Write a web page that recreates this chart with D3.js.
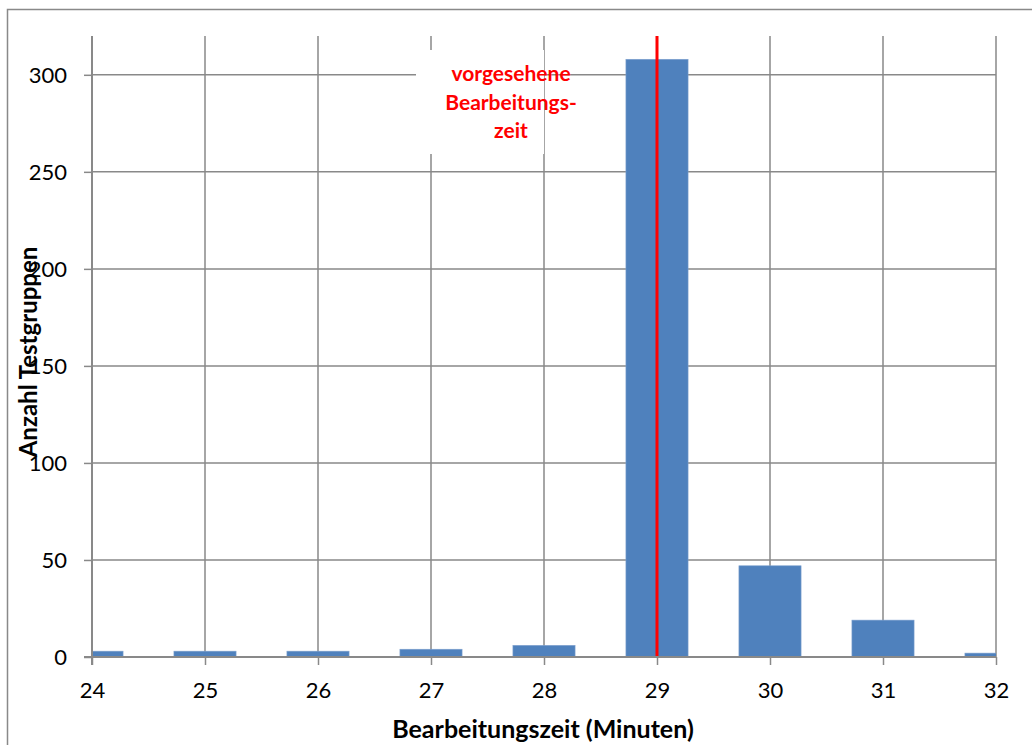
<!DOCTYPE html>
<html>
<head>
<meta charset="utf-8">
<script src="https://cdn.jsdelivr.net/npm/d3@7"></script>
<style>
  html, body { margin: 0; padding: 0; background: #fff; }
  svg { display: block; }
  text { font-family: Lato, "Open Sans", "Liberation Sans", sans-serif; }
</style>
</head>
<body>
<svg id="chart" width="1032" height="745"></svg>
<script>
// Bearbeitungszeit in Minuten and number of test groups per minute
const minutes = [24, 25, 26, 27, 28, 29, 30, 31, 32];
const counts  = [3, 3, 3, 4, 6, 308, 47, 19, 2];
const xTicks  = [24, 25, 26, 27, 28, 29, 30, 31, 32];
const yTicks  = [0, 50, 100, 150, 200, 250, 300];
const plannedTime = 29;
const plannedLabel = ["vorgesehene", "Bearbeitungs-", "zeit"];

const svg = d3.select("#chart");
const W = 1032, H = 745;
const m = { left: 92, right: 1032 - 996, top: 36, bottom: H - 657 };

const x = d3.scaleLinear().domain([24, 32]).range([m.left, W - m.right]);
const y = d3.scaleLinear().domain([0, 320]).range([H - m.bottom, m.top]);

const grid = "#898989";
const fontStack = "Lato, 'Open Sans', sans-serif";

// outer frame
svg.append("rect")
  .attr("x", 7.5).attr("y", 9.5).attr("width", 1040).attr("height", 760)
  .attr("fill", "none").attr("stroke", grid).attr("stroke-width", 1.5);

// clip for bars at the plot edges
svg.append("clipPath").attr("id", "plotClip")
  .append("rect")
  .attr("x", m.left).attr("y", m.top)
  .attr("width", x(32) - x(24)).attr("height", y(0) - y(320));

// horizontal grid
svg.append("g").selectAll("line").data(yTicks.filter(d => d > 0)).join("line")
  .attr("x1", x(24)).attr("x2", x(32))
  .attr("y1", d => y(d)).attr("y2", d => y(d))
  .attr("stroke", grid).attr("stroke-width", 1.5);

// vertical grid
svg.append("g").selectAll("line").data(xTicks.filter(d => d > 24)).join("line")
  .attr("x1", d => x(d)).attr("x2", d => x(d))
  .attr("y1", y(320)).attr("y2", y(0))
  .attr("stroke", grid).attr("stroke-width", 1.5);

// bars
const barW = x(24.55) - x(24);
svg.append("g").attr("clip-path", "url(#plotClip)")
  .selectAll("rect").data(minutes).join("rect")
  .attr("x", (d) => x(d) - barW / 2)
  .attr("y", (d, i) => y(counts[i]))
  .attr("width", barW)
  .attr("height", (d, i) => y(0) - y(counts[i]))
  .attr("fill", "#4F81BD")
  .attr("stroke", "#7FA1CE").attr("stroke-width", 0.6);

// annotation background
svg.append("rect")
  .attr("x", 416).attr("y", 50).attr("width", 128).attr("height", 104)
  .attr("fill", "#fff");

// annotation text
svg.append("text")
  .attr("x", 511).attr("y", 81)
  .attr("text-anchor", "middle")
  .attr("fill", "#FF0000").attr("font-weight", "bold").attr("font-size", 21)
  .style("font-family", fontStack)
  .selectAll("tspan").data(plannedLabel).join("tspan")
  .attr("x", 511).attr("dy", (d, i) => i === 0 ? 0 : 28.5)
  .text(d => d);

// planned time line
svg.append("line")
  .attr("x1", x(plannedTime)).attr("x2", x(plannedTime))
  .attr("y1", y(320)).attr("y2", y(0))
  .attr("stroke", "#FF0000").attr("stroke-width", 3);

// x axis
const xAxis = svg.append("g")
  .attr("transform", `translate(0,${y(0)})`)
  .call(d3.axisBottom(x).tickValues(xTicks).tickSize(8).tickFormat(d3.format("d")));
xAxis.select(".domain").attr("stroke", grid).attr("stroke-width", 2)
  .attr("d", `M${x(24) - 8},0H${x(32)}`);
xAxis.selectAll(".tick line").attr("stroke", grid).attr("stroke-width", 1.5);
xAxis.selectAll(".tick text")
  .attr("y", 41).attr("dy", null)
  .attr("font-size", 22).attr("fill", "#000")
  .style("font-family", fontStack);

// y axis
const yAxis = svg.append("g")
  .attr("transform", `translate(${x(24)},0)`)
  .call(d3.axisLeft(y).tickValues(yTicks).tickSize(8).tickFormat(d3.format("d")));
yAxis.select(".domain").attr("stroke", grid).attr("stroke-width", 2)
  .attr("d", `M0,${y(320)}V${y(0) + 8}`);
yAxis.selectAll(".tick line").attr("stroke", grid).attr("stroke-width", 1.5);
yAxis.selectAll(".tick text")
  .attr("x", -25).attr("dy", "0.36em")
  .attr("font-size", 22).attr("fill", "#000")
  .style("font-family", fontStack);

// axis titles
svg.append("text")
  .attr("x", 543).attr("y", 738)
  .attr("text-anchor", "middle").attr("font-weight", "bold").attr("font-size", 25)
  .style("font-family", fontStack)
  .text("Bearbeitungszeit (Minuten)");

svg.append("text")
  .attr("transform", `translate(37,352) rotate(-90)`)
  .attr("text-anchor", "middle").attr("font-weight", "bold").attr("font-size", 24)
  .style("font-family", fontStack)
  .text("Anzahl Testgruppen");
</script>
</body>
</html>
